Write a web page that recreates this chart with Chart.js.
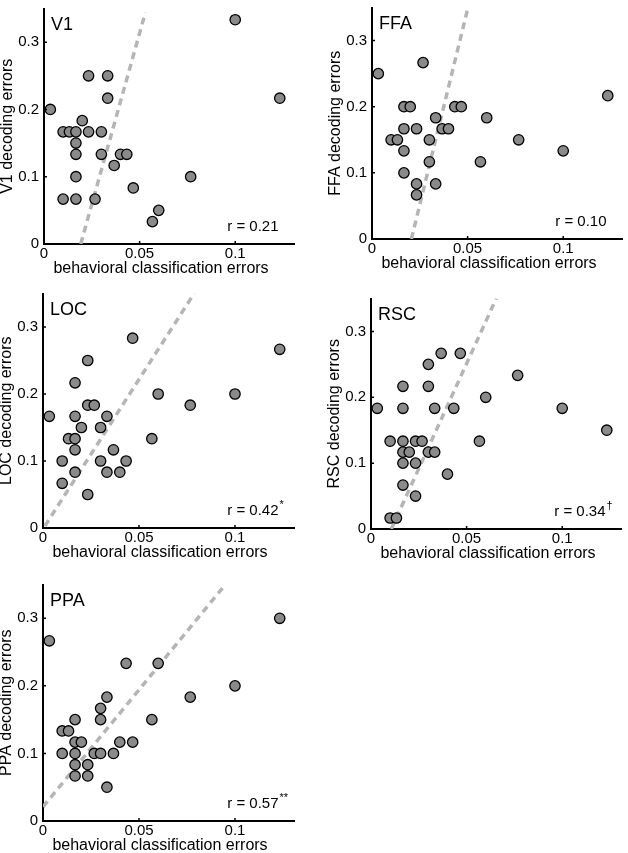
<!DOCTYPE html>
<html>
<head>
<meta charset="utf-8">
<script src="https://cdn.jsdelivr.net/npm/chart.js@4.4.1/dist/chart.umd.min.js"></script>
<style>
  html, body { margin: 0; padding: 0; background: #fff; }
  body { width: 628px; height: 853px; position: relative; overflow: hidden; }
  canvas { position: absolute; }
</style>
</head>
<body>
<canvas id="v1"></canvas>
<canvas id="ffa"></canvas>
<canvas id="loc"></canvas>
<canvas id="rsc"></canvas>
<canvas id="ppa"></canvas>
<script>
// tick labels shared by every panel
const xTicks = [0, 0.05, 0.1];
const yTicks = [0, 0.1, 0.2, 0.3];
const xTitle = 'behavioral classification errors';

// V1
const v1X = [0.1, 0.1233, 0.0033, 0.0233, 0.0333, 0.0333, 0.02, 0.01, 0.0133, 0.0167, 0.0233, 0.03, 0.0167,
  0.0167, 0.03, 0.04, 0.0433, 0.0367, 0.0167, 0.0767, 0.0467, 0.01, 0.0167, 0.0267, 0.06, 0.0567];
const v1Y = [0.3333, 0.2167, 0.2, 0.25, 0.25, 0.2167, 0.1833, 0.1667, 0.1667, 0.1667, 0.1667, 0.1667, 0.15,
  0.1333, 0.1333, 0.1333, 0.1333, 0.1167, 0.1, 0.1, 0.0833, 0.0667, 0.0667, 0.0667, 0.05, 0.0333];
const v1Fit = [[0.0192, 0], [0.053, 0.344]];

// FFA
const ffaX = [0.0033, 0.0267, 0.1233, 0.0167, 0.02, 0.0433, 0.0467, 0.0333, 0.06, 0.0167, 0.0233, 0.0367, 0.04,
  0.01, 0.0133, 0.03, 0.0767, 0.0167, 0.1, 0.03, 0.0567, 0.0167, 0.0233, 0.0333, 0.0233];
const ffaY = [0.25, 0.2667, 0.2167, 0.2, 0.2, 0.2, 0.2, 0.1833, 0.1833, 0.1667, 0.1667, 0.1667, 0.1667,
  0.15, 0.15, 0.15, 0.15, 0.1333, 0.1333, 0.1167, 0.1167, 0.1, 0.0833, 0.0833, 0.0667];
const ffaFit = [[0.0206, 0], [0.0502, 0.35]];

// LOC
const locX = [0.0467, 0.1233, 0.0233, 0.0167, 0.06, 0.1, 0.0233, 0.0267, 0.0767, 0.0033, 0.0167, 0.0333, 0.02,
  0.03, 0.0133, 0.0167, 0.0567, 0.0167, 0.0367, 0.01, 0.03, 0.0433, 0.0167, 0.0333, 0.04, 0.01, 0.0233];
const locY = [0.2833, 0.2667, 0.25, 0.2167, 0.2, 0.2, 0.1833, 0.1833, 0.1833, 0.1667, 0.1667, 0.1667, 0.15,
  0.15, 0.1333, 0.1333, 0.1333, 0.1167, 0.1167, 0.1, 0.1, 0.1, 0.0833, 0.0833, 0.0833, 0.0667, 0.05];
const locFit = [[0.001, 0.003], [0.0787, 0.35]];

// RSC
const rscX = [0.0033, 0.0367, 0.0467, 0.0767, 0.03, 0.0167, 0.03, 0.06, 0.0167, 0.0333, 0.0433, 0.1, 0.1233,
  0.01, 0.0167, 0.0233, 0.0267, 0.0567, 0.0167, 0.02, 0.03, 0.0333, 0.0167, 0.0233, 0.04, 0.0167, 0.0233,
  0.01, 0.0133];
const rscY = [0.1833, 0.2667, 0.2667, 0.2333, 0.25, 0.2167, 0.2167, 0.2, 0.1833, 0.1833, 0.1833, 0.1833, 0.15,
  0.1333, 0.1333, 0.1333, 0.1333, 0.1333, 0.1167, 0.1167, 0.1167, 0.1167, 0.1, 0.1, 0.0833, 0.0667, 0.05,
  0.0167, 0.0167];
const rscFit = [[0.0106, 0], [0.0655, 0.35]];

// PPA
const ppaX = [0.1233, 0.0033, 0.0433, 0.06, 0.1, 0.0767, 0.0333, 0.03, 0.03, 0.0167, 0.0567, 0.01, 0.0133,
  0.0167, 0.02, 0.04, 0.0467, 0.01, 0.0167, 0.0267, 0.03, 0.0367, 0.0167, 0.0233, 0.0167, 0.0233, 0.0333];
const ppaY = [0.3, 0.2667, 0.2333, 0.2333, 0.2, 0.1833, 0.1833, 0.1667, 0.15, 0.15, 0.15, 0.1333, 0.1333,
  0.1167, 0.1167, 0.1167, 0.1167, 0.1, 0.1, 0.1, 0.1, 0.1, 0.0833, 0.0833, 0.0667, 0.0667, 0.05];
const ppaFit = [[0, 0.021], [0.095, 0.35]];

const FONT = "'Liberation Sans', Arial, sans-serif";
Chart.defaults.font.family = FONT;
Chart.defaults.color = '#000';

const PADL = 44;   // room for y ticks + y title
const PADB = 36;   // room for x ticks + x title

// panel label, r value and a small superscript drawn on the chart
const panelText = {
  id: 'panelText',
  afterDraw(chart, args, opts) {
    const { ctx, chartArea: a } = chart;
    ctx.save();
    ctx.fillStyle = '#000';
    ctx.textBaseline = 'alphabetic';
    ctx.textAlign = 'left';
    ctx.font = '18px ' + FONT;
    ctx.fillText(opts.label, a.left + 7, a.top + 21);
    ctx.font = '15px ' + FONT;
    ctx.textAlign = 'right';
    ctx.fillText(opts.r, a.right - 16, a.bottom - 13);
    if (opts.sup) {
      ctx.font = '11px ' + FONT;
      ctx.textAlign = 'left';
      ctx.fillText(opts.sup, a.right - 15, a.bottom - 20);
    }
    ctx.font = '16px ' + FONT;
    ctx.textAlign = 'center';
    ctx.textBaseline = 'middle';
    ctx.fillText(xTitle, a.left + 117, a.bottom + 25);
    ctx.restore();
  }
};

// small tick marks pointing into the plot
const inwardTicks = {
  id: 'inwardTicks',
  afterDraw(chart) {
    const { ctx, chartArea: a, scales } = chart;
    ctx.save();
    ctx.strokeStyle = '#000';
    ctx.lineWidth = 1.5;
    ctx.beginPath();
    scales.x.ticks.forEach(t => {
      const px = scales.x.getPixelForValue(t.value);
      ctx.moveTo(px, a.bottom);
      ctx.lineTo(px, a.bottom - 3);
    });
    scales.y.ticks.forEach(t => {
      const py = scales.y.getPixelForValue(t.value);
      ctx.moveTo(a.left, py);
      ctx.lineTo(a.left + 3, py);
    });
    ctx.stroke();
    ctx.restore();
  }
};

const panels = [
  { id: 'v1', label: 'V1', xs: v1X, ys: v1Y, fit: v1Fit, r: 'r = 0.21', sup: '', box: { left: 44, top: 2, w: 257, h: 242 } },
  { id: 'ffa', label: 'FFA', xs: ffaX, ys: ffaY, fit: ffaFit, r: 'r = 0.10', sup: '', box: { left: 372, top: 1, w: 257, h: 238 } },
  { id: 'loc', label: 'LOC', xs: locX, ys: locY, fit: locFit, r: 'r = 0.42', sup: '*', box: { left: 43, top: 287, w: 258, h: 241 } },
  { id: 'rsc', label: 'RSC', xs: rscX, ys: rscY, fit: rscFit, r: 'r = 0.34', sup: '\u2020', box: { left: 371, top: 292, w: 257, h: 237 } },
  { id: 'ppa', label: 'PPA', xs: ppaX, ys: ppaY, fit: ppaFit, r: 'r = 0.57', sup: '**', box: { left: 43, top: 578, w: 258, h: 243 } }
];

function makeChart(p) {
  const canvas = document.getElementById(p.id);
  canvas.width = PADL + p.box.w;
  canvas.height = p.box.h + PADB;
  canvas.style.left = (p.box.left - PADL) + 'px';
  canvas.style.top = p.box.top + 'px';

  return new Chart(canvas, {
    type: 'scatter',
    data: {
      datasets: [{
        data: p.xs.map((x, i) => ({ x: x, y: p.ys[i] })),
        backgroundColor: '#8a8a8a',
        borderColor: '#000',
        borderWidth: 1.3,
        pointRadius: 5.2,
        order: 1
      }, {
        data: p.fit.map(d => ({ x: d[0], y: d[1] })),
        showLine: true,
        borderColor: '#b5b5b5',
        borderWidth: 3.5,
        borderDash: [7, 5],
        pointRadius: 0,
        fill: false,
        order: 2
      }]
    },
    options: {
      responsive: false,
      animation: false,
      events: [],
      layout: { padding: 0 },
      plugins: {
        legend: { display: false },
        tooltip: { enabled: false },
        panelText: { label: p.label, r: p.r, sup: p.sup }
      },
      scales: {
        x: {
          type: 'linear',
          min: 0,
          max: 0.131,
          afterBuildTicks: s => { s.ticks = xTicks.map(v => ({ value: v })); },
          afterFit: s => { s.height = PADB; s.paddingLeft = 0; s.paddingRight = 0; },
          grid: { display: false, drawTicks: false },
          border: { display: true, color: '#000', width: 2 },
          ticks: { padding: 1, font: { size: 15 }, maxRotation: 0, callback: v => String(v) }
        },
        y: {
          type: 'linear',
          min: 0,
          max: 0.35,
          afterBuildTicks: s => { s.ticks = yTicks.map(v => ({ value: v })); },
          afterFit: s => { s.width = PADL; s.paddingTop = 0; s.paddingBottom = 0; },
          grid: { display: false, drawTicks: false },
          border: { display: true, color: '#000', width: 2 },
          ticks: { padding: 5, font: { size: 15 }, callback: v => String(v) },
          title: { display: true, text: p.label + ' decoding errors', font: { size: 16, lineHeight: 1 }, padding: 0 }
        }
      }
    },
    plugins: [panelText, inwardTicks]
  });
}

const charts = panels.map(makeChart);
</script>
</body>
</html>
